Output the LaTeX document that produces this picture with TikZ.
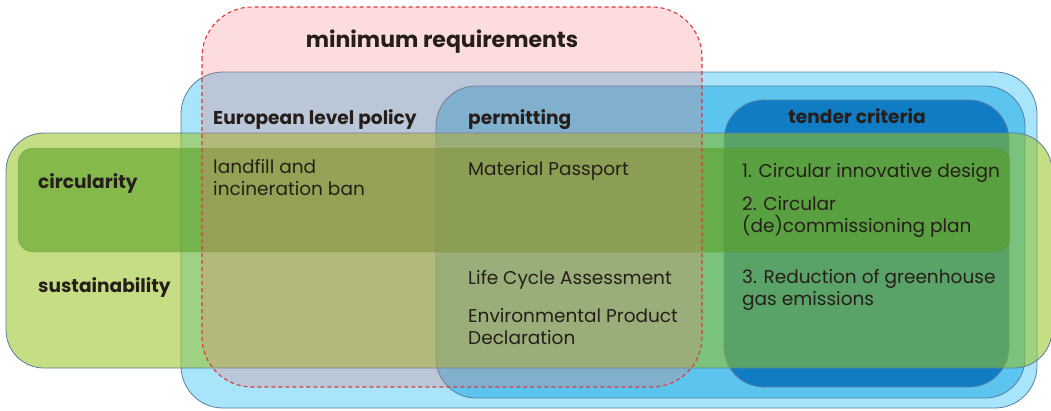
\documentclass[tikz,border=0pt]{standalone}
\usepackage{fontspec}
\setmainfont{Poppins}
\definecolor{euroblue}{RGB}{168,228,250}
\definecolor{permitblue}{RGB}{91,197,239}
\definecolor{tenderblue}{RGB}{15,124,196}
\definecolor{minpink}{RGB}{243,115,115}
\definecolor{mindash}{RGB}{225,55,55}
\definecolor{sustgreen}{RGB}{150,195,30}
\definecolor{circgreen}{RGB}{90,160,40}
\definecolor{boxline}{RGB}{90,125,162}
\definecolor{ink}{RGB}{38,30,26}
\begin{document}
\begin{tikzpicture}[x=1pt, y=-1pt,
  box/.style={draw=boxline, line width=0.8pt},
  head/.style={font=\bfseries\fontsize{18.6}{22}\selectfont, text=ink, inner sep=0pt, anchor=base west},
  item/.style={font=\fontsize{18.5}{22}\selectfont, text=ink, inner sep=0pt, anchor=base west, align=left}]
\useasboundingbox (0,0) rectangle (1051,410);

% blue boxes
\draw[box, fill=euroblue, rounded corners=42] (181,72) rectangle (1037,408);
\draw[box, fill=permitblue, rounded corners=40] (436,86) rectangle (1025,398);
\draw[box, fill=tenderblue, rounded corners=40] (724,100) rectangle (1009,387);

% green boxes
\draw[box, fill=sustgreen, fill opacity=0.55, rounded corners=38] (6,133) rectangle (1052,368);
\draw[draw=circgreen!80!black, draw opacity=0.3, fill=circgreen, fill opacity=0.6, rounded corners=15] (18,148) rectangle (1010,252);

% minimum requirements
\fill[minpink, fill opacity=0.25, rounded corners=50] (202,7) rectangle (702,387);
\draw[mindash, dash pattern=on 4pt off 3pt, line width=1.1pt, rounded corners=50] (202,7) rectangle (702,387);

\node[head, font=\bfseries\fontsize{22}{26}\selectfont, anchor=base] (minreq) at (442,47) {minimum requirements};
\node[head] (euro) at (213,124) {European level policy};
\node[head] (permit) at (468,124) {permitting};
\node[head, anchor=base] (tender) at (857,123) {tender criteria};
\node[head] (circ) at (38,188) {circularity};
\node[head] (sust) at (38,292) {sustainability};

% multi-line texts: base is the last line
\node[item] (ban) at (213,195) {landfill and\\incineration ban};
\node[item] (passport) at (468,175) {Material Passport};
\node[item] (lca) at (468,284) {Life Cycle Assessment};
\node[item] (epd) at (468,344) {Environmental Product\\Declaration};
\node[item] (design) at (742,177) {1. Circular innovative design};
\node[item] (plan) at (742,232) {2. Circular\\(de)commissioning plan};
\node[item] (ghg) at (742,305) {3. Reduction of greenhouse\\gas emissions};
\end{tikzpicture}
\end{document}
